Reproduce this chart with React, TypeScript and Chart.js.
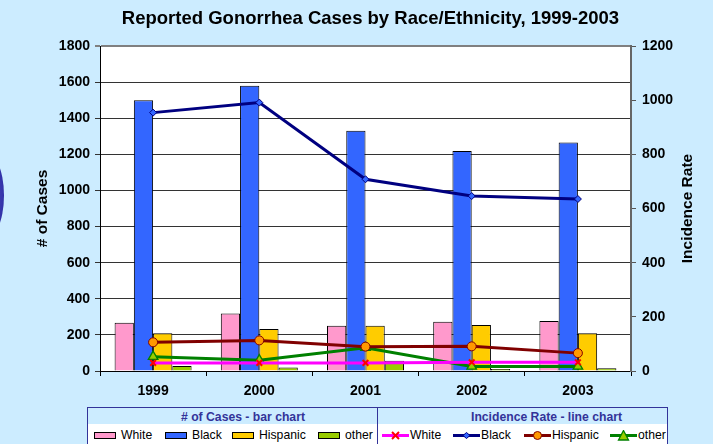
import React, { useEffect, useRef } from "react";
import { Chart, registerables } from "chart.js";

Chart.register(...registerables);

// ---- data ----
const years = ["1999", "2000", "2001", "2002", "2003"];
const casesWhite = [267, 319, 251, 273, 277];
const casesBlack = [1500, 1580, 1331, 1218, 1266];
const casesHispanic = [209, 232, 251, 255, 209];
const casesOther = [28, 20, 57, 11, 15];
const rateWhite = [30, 30, 30, 32, 32];
const rateBlack = [954, 991, 708, 646, 635];
const rateHispanic = [106, 113, 90, 91, 66];
const rateOther = [53, 40, 86, 17, 17];
const seriesLabels = ["White", "Black", "Hispanic", "other"];
const chartTitle = "Reported Gonorrhea Cases by Race/Ethnicity, 1999-2003";
const leftAxisTitle = "# of Cases";
const rightAxisTitle = "Incidence Rate";
const barLegendTitle = "# of Cases - bar chart";
const lineLegendTitle = "Incidence Rate - line chart";

// ---- styles ----
const FONT = "Arial, 'Liberation Sans', Helvetica, sans-serif";
const BG = "#CCECFF";
const barColors = ["#FF99CC", "#3366FF", "#FFCC00", "#99CC00"];
const lineColors = ["#FF00FF", "#000080", "#800000", "#008000"];
const LEG_BLUE = "#333399";

const decorPlugin = {
  id: "decor",
  beforeDraw(chart: any) {
    const { ctx, chartArea: a } = chart;
    ctx.save();
    ctx.fillStyle = "#FFFFFF";
    ctx.fillRect(a.left, a.top, a.right - a.left, a.bottom - a.top);
    ctx.restore();
  },
  afterDraw(chart: any) {
    const { ctx, chartArea: a } = chart;
    const midY = (a.top + a.bottom) / 2;
    ctx.save();
    ctx.fillStyle = "#000";
    ctx.textAlign = "center";
    ctx.textBaseline = "middle";
    ctx.font = `bold 18.5px ${FONT}`;
    ctx.fillText(chartTitle, (a.left + a.right) / 2 + 5, a.top - 27);
    ctx.font = `bold 15.5px ${FONT}`;
    ctx.save();
    ctx.translate(a.left - 57.5, midY);
    ctx.rotate(-Math.PI / 2);
    ctx.fillText(leftAxisTitle, 0, 0);
    ctx.restore();
    ctx.save();
    ctx.translate(a.right + 57, midY);
    ctx.rotate(-Math.PI / 2);
    ctx.fillText(rightAxisTitle, 0, 0);
    ctx.restore();
    ctx.restore();
  },
};

function LineSample({ i }: { i: number }) {
  const c = lineColors[i];
  let marker: any = null;
  if (i === 0)
    marker = (
      <g stroke="#FF0000" strokeWidth={2}>
        <line x1={10} y1={2} x2={17} y2={9} />
        <line x1={17} y1={2} x2={10} y2={9} />
      </g>
    );
  if (i === 1)
    marker = <polygon points="13.5,2.5 17,5.5 13.5,8.5 10,5.5" fill="#3366FF" stroke="#000080" strokeWidth={1} />;
  if (i === 2) marker = <circle cx={13.5} cy={5.5} r={4} fill="#FF9900" stroke="#800000" strokeWidth={1} />;
  if (i === 3) marker = <polygon points="13.5,0.5 18.5,10 8.5,10" fill="#99CC00" stroke="#008000" strokeWidth={1.3} />;
  return (
    <svg width={27} height={11} style={{ display: "block" }}>
      <line x1={0} y1={5.5} x2={27} y2={5.5} stroke={c} strokeWidth={3} />
      {marker}
    </svg>
  );
}

const plainTick = (v: any) => String(v);

export default function App() {
  const ref = useRef<HTMLCanvasElement | null>(null);

  useEffect(() => {
    if (!ref.current) return;
    const barCommon = {
      type: "bar" as const,
      yAxisID: "y",
      borderColor: "#000",
      borderWidth: 1,
      categoryPercentage: 0.725,
      barPercentage: 1.0,
      order: 1,
    };
    const lineCommon = {
      type: "line" as const,
      yAxisID: "y1",
      borderWidth: 3,
      tension: 0,
      fill: false,
      order: 0,
    };
    const chart = new Chart(ref.current, {
      type: "bar",
      data: {
        labels: years,
        datasets: [
          { ...barCommon, label: seriesLabels[0], data: casesWhite, backgroundColor: barColors[0] },
          { ...barCommon, label: seriesLabels[1], data: casesBlack, backgroundColor: barColors[1] },
          { ...barCommon, label: seriesLabels[2], data: casesHispanic, backgroundColor: barColors[2] },
          { ...barCommon, label: seriesLabels[3], data: casesOther, backgroundColor: barColors[3] },
          {
            ...lineCommon,
            label: seriesLabels[0],
            data: rateWhite,
            borderColor: lineColors[0],
            pointStyle: "crossRot",
            pointRadius: 4,
            pointBorderColor: "#FF0000",
            pointBorderWidth: 2,
            pointBackgroundColor: "#FF0000",
          },
          {
            ...lineCommon,
            label: seriesLabels[1],
            data: rateBlack,
            borderColor: lineColors[1],
            pointStyle: "rectRot",
            pointRadius: 3.5,
            pointBorderColor: "#000080",
            pointBorderWidth: 1,
            pointBackgroundColor: "#3366FF",
          },
          {
            ...lineCommon,
            label: seriesLabels[2],
            data: rateHispanic,
            borderColor: lineColors[2],
            pointStyle: "circle",
            pointRadius: 4.5,
            pointBorderColor: "#800000",
            pointBorderWidth: 1,
            pointBackgroundColor: "#FF9900",
          },
          {
            ...lineCommon,
            label: seriesLabels[3],
            data: rateOther,
            borderColor: lineColors[3],
            pointStyle: "triangle",
            pointRadius: 5.5,
            pointBorderColor: "#008000",
            pointBorderWidth: 1.3,
            pointBackgroundColor: "#99CC00",
          },
        ] as any,
      },
      options: {
        responsive: false,
        animation: false,
        layout: { padding: { top: 46, bottom: 39, left: 0, right: 0 } },
        plugins: {
          legend: { display: false },
          title: { display: false },
          tooltip: { enabled: false },
        },
        scales: {
          x: {
            type: "category",
            offset: true,
            grid: { offset: true, drawOnChartArea: false, color: "#000", tickLength: 5 },
            border: { color: "#000", width: 1 },
            ticks: { color: "#000", font: { family: FONT, size: 14, weight: "bold" }, padding: 7 },
            afterFit: (s: any) => {
              s.height = 34;
            },
          },
          y: {
            position: "left",
            min: 0,
            max: 1800,
            ticks: {
              stepSize: 200,
              callback: plainTick,
              color: "#000",
              font: { family: FONT, size: 14, weight: "bold" },
              padding: 5,
            },
            grid: {
              color: (c: any) => (c.tick && c.tick.value === 1800 ? "#808080" : "#333333"),
              lineWidth: (c: any) => (c.tick && c.tick.value === 1800 ? 2 : 1),
              tickLength: 5,
            },
            border: { color: "#000", width: 1 },
            afterFit: (s: any) => {
              s.width = 100;
            },
          },
          y1: {
            position: "right",
            min: 0,
            max: 1200,
            ticks: {
              stepSize: 200,
              callback: plainTick,
              color: "#000",
              font: { family: FONT, size: 14, weight: "bold" },
              padding: 6,
            },
            grid: { drawOnChartArea: false, color: "#555", tickLength: 5 },
            border: { color: "#666", width: 2 },
            afterFit: (s: any) => {
              s.width = 82;
            },
          },
        },
      } as any,
      plugins: [decorPlugin],
    });
    return () => chart.destroy();
  }, []);

  const barX = [94, 165, 232, 318];
  const lineX = [382, 453, 524, 610];
  const itemTop = 428;

  const legTitleStyle: any = {
    position: "absolute",
    top: 410,
    fontSize: 12.2,
    fontWeight: "bold",
    color: LEG_BLUE,
    lineHeight: "14px",
    whiteSpace: "nowrap",
  };

  return (
    <div
      style={{
        position: "absolute",
        left: 0,
        top: 0,
        width: 713,
        height: 444,
        background: BG,
        overflow: "hidden",
        fontFamily: FONT,
      }}
    >
      <div
        style={{
          position: "absolute",
          left: -40,
          top: 148,
          width: 44,
          height: 95,
          borderRadius: "50%",
          background: "radial-gradient(ellipse at 30% 50%, #6a6ad0 0%, #3333aa 70%, #222288 100%)",
        }}
      />
      <canvas ref={ref} width={713} height={444} style={{ position: "absolute", left: 0, top: 0, width: 713, height: 444 }} />
      <div
        style={{
          position: "absolute",
          left: 87,
          top: 407,
          width: 581,
          height: 50,
          border: `1px solid ${LEG_BLUE}`,
          boxSizing: "border-box",
          background: "#FFFFFF",
        }}
      >
        <div style={{ position: "absolute", left: 0, top: 0, right: 0, height: 16, background: BG }} />
        <div style={{ position: "absolute", left: 289, top: 0, bottom: 0, width: 1, background: LEG_BLUE }} />
      </div>
      <div style={{ ...legTitleStyle, left: 181 }}>{barLegendTitle}</div>
      <div style={{ ...legTitleStyle, left: 471 }}>{lineLegendTitle}</div>
      {seriesLabels.map((lab, i) => (
        <div
          key={"b" + i}
          style={{ position: "absolute", left: barX[i], top: itemTop, display: "flex", alignItems: "center", height: 14 }}
        >
          <div
            style={{
              width: 22,
              height: 7,
              background: barColors[i],
              border: "1.5px solid #000",
              boxSizing: "border-box",
              marginRight: 5,
            }}
          />
          <span style={{ fontSize: 12.2, color: "#000", lineHeight: "14px", whiteSpace: "nowrap" }}>{lab}</span>
        </div>
      ))}
      {seriesLabels.map((lab, i) => (
        <div
          key={"l" + i}
          style={{ position: "absolute", left: lineX[i], top: itemTop, display: "flex", alignItems: "center", height: 14 }}
        >
          <LineSample i={i} />
          <span style={{ fontSize: 12.2, color: "#000", lineHeight: "14px", whiteSpace: "nowrap", marginLeft: 1 }}>
            {lab}
          </span>
        </div>
      ))}
    </div>
  );
}
